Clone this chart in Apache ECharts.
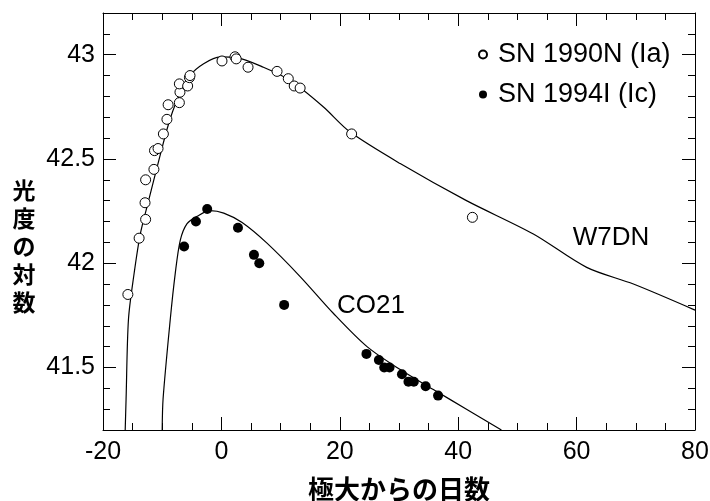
<!DOCTYPE html>
<html>
<head>
<meta charset="utf-8">
<script src="https://cdn.jsdelivr.net/npm/echarts@6/dist/echarts.min.js"></script>
<style>
  html, body { margin: 0; padding: 0; background: #fff; }
  #main { width: 710px; height: 501px; }
</style>
</head>
<body>
<div id="main"></div>
<script>
// 観測データ（極大からの日数, 光度の対数）
var sn1990N = [
    [-15.8, 41.85], [-13.9, 42.12], [-12.8, 42.21], [-12.9, 42.29], [-12.8, 42.40],
    [-11.4, 42.45], [-11.3, 42.54], [-10.7, 42.55], [-9.8, 42.62], [-9.2, 42.69],
    [-9.0, 42.76], [-7.1, 42.77], [-7.0, 42.82], [-7.1, 42.86], [-5.7, 42.85],
    [-5.4, 42.89], [-5.3, 42.90], [0.1, 42.97], [2.3, 42.99], [2.5, 42.98],
    [4.5, 42.94], [9.4, 42.92], [11.3, 42.885], [12.3, 42.85], [13.3, 42.84],
    [22.0, 42.62], [42.4, 42.22]
];
var sn1994I = [
    [-6.3, 42.08], [-4.3, 42.20], [-2.4, 42.26], [2.8, 42.17], [5.5, 42.04],
    [6.4, 42.00], [10.6, 41.80], [24.5, 41.565], [26.6, 41.536], [27.5, 41.50],
    [28.4, 41.50], [30.5, 41.467], [31.6, 41.432], [32.5, 41.431], [34.5, 41.41],
    [36.6, 41.365]
];
// モデル曲線
var w7dn = [
    [-16.25, 41.2], [-16.1, 41.35], [-15.7, 41.73], [-14.8, 41.94], [-13.7, 42.14],
    [-12.3, 42.30], [-10.6, 42.49], [-8.9, 42.67], [-7.5, 42.78], [-5.3, 42.90],
    [-3.0, 42.957], [-0.2, 42.99], [2.6, 42.986], [7.1, 42.94], [11.6, 42.877],
    [17.2, 42.75], [21.7, 42.63], [30.2, 42.478], [41.4, 42.30], [52.7, 42.14],
    [61.7, 41.98], [69.6, 41.90], [80, 41.775]
];
var co21 = [
    [-10.0, 41.2], [-9.85, 41.35], [-8.64, 41.73], [-7.8, 41.95], [-6.95, 42.11],
    [-5.8, 42.19], [-4.1, 42.225], [-1.9, 42.252], [0.4, 42.24], [3.5, 42.195],
    [7.7, 42.096], [13.3, 41.936], [18.9, 41.76], [24.6, 41.60], [30.2, 41.49],
    [35.8, 41.394], [41.4, 41.30], [47.3, 41.2]
];
var yTicks = [41.5, 42, 42.5, 43];
var seriesNames = ['SN 1990N (Ia)', 'SN 1994I (Ic)'];

var font = '"Liberation Sans", Arial, Helvetica, sans-serif';
var cjk = '"Noto Sans CJK JP", sans-serif';
var black = '#000';

function xAx(pos, labels) {
    return {
        type: 'value', position: pos, min: -20, max: 80, interval: 20,
        axisLine: { show: true, onZero: false, lineStyle: { color: black, width: 1 } },
        axisTick: { inside: true, length: 13, lineStyle: { color: black } },
        minorTick: { show: true, splitNumber: 4, length: 7, lineStyle: { color: black } },
        splitLine: { show: false },
        axisLabel: { show: labels, color: black, fontSize: 25, fontFamily: font, margin: 10 },
        name: labels ? '極大からの日数' : '',
        nameLocation: 'middle', nameGap: 46,
        nameTextStyle: { color: black, fontSize: 26, fontWeight: 'bold', fontFamily: cjk }
    };
}
function yMinor(pos) {
    return {
        type: 'value', position: pos, min: 41.2, max: 43.2, interval: 0.1,
        axisLine: { show: true, onZero: false, lineStyle: { color: black, width: 1 } },
        axisTick: { inside: true, length: 7, lineStyle: { color: black } },
        splitLine: { show: false },
        axisLabel: { show: false }
    };
}
function yMajor(pos, labels) {
    return {
        type: 'value', position: pos, min: 41.2, max: 43.2,
        axisLine: { show: false, onZero: false },
        axisTick: { inside: true, length: 13, customValues: yTicks, lineStyle: { color: black } },
        splitLine: { show: false },
        axisLabel: { show: labels, customValues: yTicks, color: black, fontSize: 25, fontFamily: font, margin: 8 }
    };
}

var myChart = echarts.init(document.getElementById('main'));
var option = {
    animation: false,
    backgroundColor: '#fff',
    grid: { left: 103, right: 15, top: 13, bottom: 71, outerBoundsMode: 'none', containLabel: false },
    xAxis: [xAx('bottom', true), xAx('top', false)],
    yAxis: [yMinor('left'), yMinor('right'), yMajor('left', true), yMajor('right', false)],
    legend: {
        data: seriesNames,
        orient: 'vertical',
        left: 473, top: 36,
        itemWidth: 8, itemHeight: 8, itemGap: 13,
        textStyle: { color: black, fontSize: 27, fontFamily: font, padding: [0, 0, 0, 6] }
    },
    graphic: [
        { type: 'text', x: 24, y: 246, style: { text: '光\n度\nの\n対\n数', fill: black,
            font: 'bold 23px ' + cjk, lineHeight: 28, align: 'center', verticalAlign: 'middle' } },
        { type: 'text', x: 611, y: 238, style: { text: 'W7DN', fill: black,
            font: '26px ' + font, align: 'center', verticalAlign: 'middle' } },
        { type: 'text', x: 371, y: 306, style: { text: 'CO21', fill: black,
            font: '26px ' + font, align: 'center', verticalAlign: 'middle' } }
    ],
    series: [
        {
            name: 'W7DN', type: 'line', data: w7dn, smooth: 0.3,
            showSymbol: false, silent: true, clip: true,
            lineStyle: { color: black, width: 1.2 }
        },
        {
            name: 'CO21', type: 'line', data: co21, smooth: 0.3,
            showSymbol: false, silent: true, clip: true,
            lineStyle: { color: black, width: 1.2 }
        },
        {
            name: seriesNames[0], type: 'scatter', data: sn1990N, symbol: 'circle', symbolSize: 10,
            itemStyle: { color: '#fff', borderColor: black, borderWidth: 1, opacity: 1 }, z: 5
        },
        {
            name: seriesNames[1], type: 'scatter', data: sn1994I, symbol: 'circle', symbolSize: 10,
            itemStyle: { color: black, borderColor: black, borderWidth: 0, opacity: 1 }, z: 5
        }
    ]
};
myChart.setOption(option);
</script>
</body>
</html>
